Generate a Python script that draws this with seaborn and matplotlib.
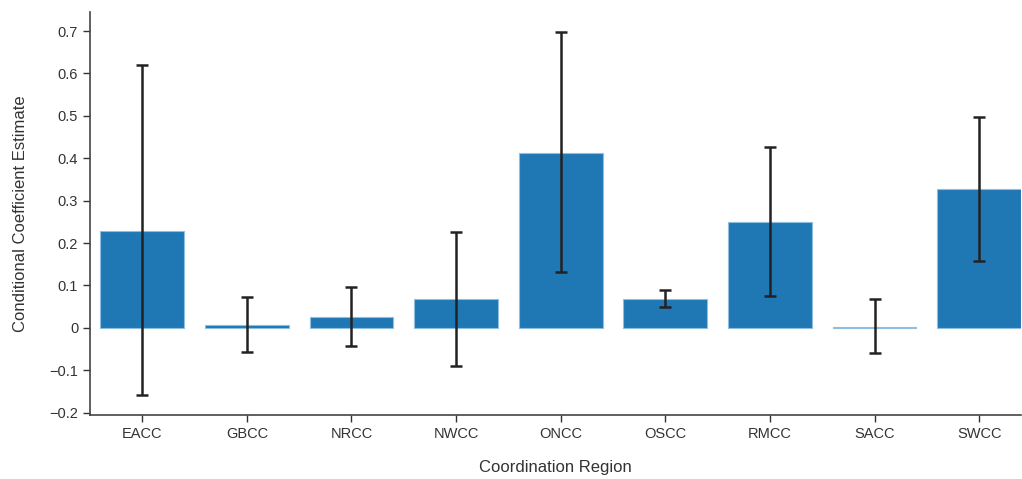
import matplotlib
matplotlib.use("Agg")
import matplotlib.pyplot as plt
import seaborn as sns
import numpy as np
import pandas as pd

regions = ["EACC", "GBCC", "NRCC", "NWCC", "ONCC", "OSCC", "RMCC", "SACC", "SWCC"]
estimates = [0.229, 0.007, 0.026, 0.068, 0.413, 0.068, 0.250, 0.002, 0.328]
ci_low = [-0.158, -0.057, -0.042, -0.090, 0.132, 0.050, 0.075, -0.059, 0.158]
ci_high = [0.620, 0.073, 0.097, 0.226, 0.698, 0.090, 0.427, 0.068, 0.498]

df = pd.DataFrame({"region": regions, "estimate": estimates})

sns.set_theme(style="ticks")
plt.rcParams["font.family"] = ["Liberation Sans", "DejaVu Sans"]
text_color = "#333333"

fig = plt.figure(figsize=(10.22, 4.79), dpi=100)
ax = fig.add_axes([0.088, 0.134, 0.911, 0.841])

sns.barplot(data=df, x="region", y="estimate", color="#1f77b4", saturation=1,
            width=0.8, errorbar=None, ax=ax, edgecolor="#8fbfe0", linewidth=0.8)

est = np.array(estimates)
yerr = np.vstack([est - np.array(ci_low), np.array(ci_high) - est])
ax.errorbar(x=np.arange(len(regions)), y=est, yerr=yerr, fmt="none",
            ecolor="#222222", elinewidth=1.8, capsize=4, capthick=1.8, zorder=5)

ax.set_xlim(-0.5, 8.4)
ax.set_ylim(-0.205, 0.745)
ax.set_yticks([-0.2, -0.1, 0, 0.1, 0.2, 0.3, 0.4, 0.5, 0.6, 0.7])
ax.set_yticklabels(["−0.2", "−0.1", "0", "0.1", "0.2", "0.3", "0.4", "0.5", "0.6", "0.7"])

ax.set_xlabel("Coordination Region", fontsize=12, color=text_color, labelpad=14)
ax.set_ylabel("Conditional Coefficient Estimate", fontsize=12, color=text_color, labelpad=15)
ax.tick_params(axis="both", labelsize=10.5, colors=text_color, length=5, width=1)
for s in ["left", "bottom"]:
    ax.spines[s].set_color("#444444")
    ax.spines[s].set_linewidth(1.2)
sns.despine(ax=ax)

fig.savefig("out.png", dpi=100)
